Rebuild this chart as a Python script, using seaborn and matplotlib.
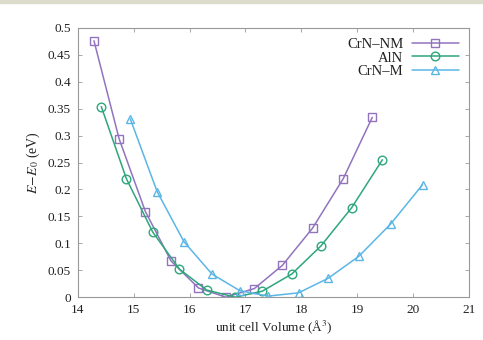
import numpy as np
import pandas as pd
import matplotlib
matplotlib.use("Agg")
import matplotlib.pyplot as plt
import seaborn as sns
from matplotlib.patches import Rectangle

# Energy vs volume curves
vol_nm = [14.29, 14.74, 15.21, 15.67, 16.16, 16.65, 17.16, 17.66, 18.20, 18.75, 19.27]
e_nm = [0.476, 0.294, 0.159, 0.067, 0.017, 0.000, 0.016, 0.059, 0.128, 0.220, 0.334]

vol_aln = [14.42, 14.87, 15.34, 15.82, 16.31, 16.82, 17.30, 17.83, 18.35, 18.90, 19.45]
e_aln = [0.354, 0.220, 0.121, 0.052, 0.013, 0.000, 0.011, 0.043, 0.095, 0.166, 0.255]

vol_m = [14.94, 15.42, 15.90, 16.40, 16.90, 17.41, 17.95, 18.48, 19.03, 19.60, 20.17]
e_m = [0.331, 0.196, 0.103, 0.043, 0.012, 0.002, 0.008, 0.035, 0.076, 0.136, 0.209]

labels = ["CrN\u2013NM", "AlN", "CrN\u2013M"]
colors = ["#9274be", "#2ea67c", "#5bb6e6"]
markers = ["s", "o", "^"]

df = pd.concat([
    pd.DataFrame({"vol": vol_nm, "E": e_nm, "phase": labels[0]}),
    pd.DataFrame({"vol": vol_aln, "E": e_aln, "phase": labels[1]}),
    pd.DataFrame({"vol": vol_m, "E": e_m, "phase": labels[2]}),
])

sns.set_style("ticks")
plt.rcParams["font.family"] = ["Liberation Serif", "DejaVu Serif"]
plt.rcParams["mathtext.fontset"] = "stix"

fig = plt.figure(figsize=(4.83, 3.4), dpi=100)
ax = fig.add_axes([0.161, 0.126, 0.81, 0.792])
fig.patches.append(Rectangle((0, 0.99), 1, 0.01, transform=fig.transFigure,
                             color="#dcdccc", zorder=0))

for lab, col, mk in zip(labels, colors, markers):
    sub = df[df["phase"] == lab]
    sns.lineplot(data=sub, x="vol", y="E", ax=ax, color=col, marker=mk,
                 markersize=6.2, markerfacecolor="none", markeredgecolor=col,
                 markeredgewidth=1.0, linewidth=1.1, label=lab, sort=False)

ax.set_xlim(14, 21)
ax.set_ylim(0, 0.5)
ax.set_xticks(np.arange(14, 22, 1))
ax.set_yticks(np.arange(0, 0.51, 0.05))
ax.set_yticklabels(["0", "0.05", "0.1", "0.15", "0.2", "0.25", "0.3", "0.35",
                    "0.4", "0.45", "0.5"])
ax.tick_params(direction="in", top=True, right=True, length=3, width=0.6,
               color="#999999", labelsize=9.5, labelcolor="#222222", pad=5)
for s in ax.spines.values():
    s.set_color("#999999")
    s.set_linewidth(0.8)

ax.set_xlabel("unit cell Volume (Å$^3$)", fontsize=9.5, color="#222222", labelpad=2)
ax.set_ylabel("$E\\!-\\!E_0$ (eV)", fontsize=10, color="#222222", labelpad=4)

leg = ax.legend(loc="upper right", frameon=False, markerfirst=False,
                fontsize=10.5, handlelength=3.2, handletextpad=0.6,
                labelspacing=0.0, borderaxespad=0.3)
for t in leg.get_texts():
    t.set_ha("right")
    t.set_color("#222222")

fig.savefig("out.png", dpi=100)
